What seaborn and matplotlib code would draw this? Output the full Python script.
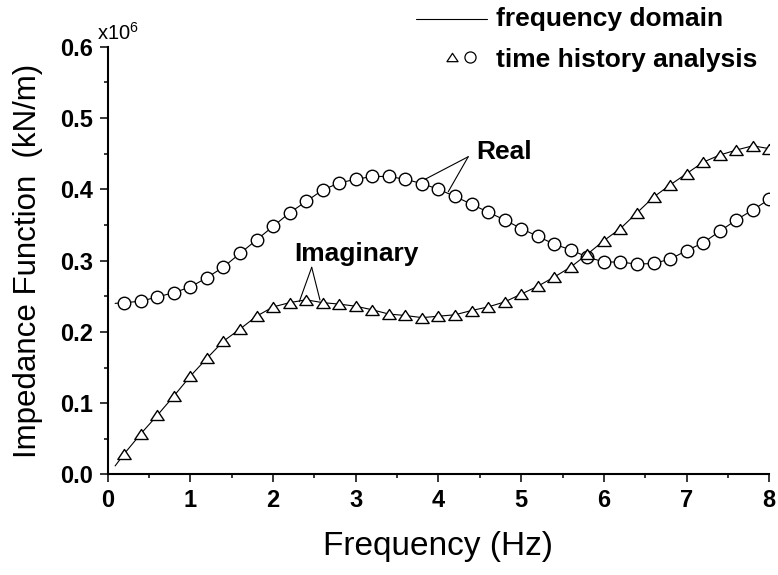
import numpy as np
import pandas as pd
import matplotlib
matplotlib.use("Agg")
import matplotlib.pyplot as plt
from matplotlib.path import Path
from matplotlib.lines import Line2D
import seaborn as sns

# Frequency points of the time-history analysis (Hz)
freq = [0.2, 0.4, 0.6, 0.8, 1.0, 1.2, 1.4, 1.6, 1.8, 2.0,
        2.2, 2.4, 2.6, 2.8, 3.0, 3.2, 3.4, 3.6, 3.8, 4.0,
        4.2, 4.4, 4.6, 4.8, 5.0, 5.2, 5.4, 5.6, 5.8, 6.0,
        6.2, 6.4, 6.6, 6.8, 7.0, 7.2, 7.4, 7.6, 7.8, 8.0]

# Real part of the impedance function (x10^6 kN/m)
real_part = [0.241, 0.243, 0.249, 0.255, 0.263, 0.276, 0.291, 0.310, 0.329, 0.348,
             0.367, 0.383, 0.399, 0.409, 0.414, 0.418, 0.418, 0.414, 0.408, 0.400,
             0.390, 0.379, 0.368, 0.357, 0.345, 0.334, 0.323, 0.315, 0.305, 0.298,
             0.298, 0.295, 0.296, 0.302, 0.314, 0.325, 0.341, 0.357, 0.371, 0.386]

# Imaginary part of the impedance function (x10^6 kN/m)
imag_part = [0.029, 0.057, 0.083, 0.110, 0.138, 0.163, 0.187, 0.204, 0.222, 0.235,
             0.241, 0.245, 0.241, 0.239, 0.236, 0.231, 0.225, 0.223, 0.220, 0.222,
             0.224, 0.230, 0.235, 0.242, 0.253, 0.264, 0.277, 0.291, 0.309, 0.328,
             0.345, 0.367, 0.389, 0.406, 0.422, 0.438, 0.448, 0.455, 0.461, 0.457]

# Frequency-domain solution: starts slightly below the first sample
fd_start_freq = [0.09]
fd_start_real = [0.240]
fd_start_imag = [0.012]

x_ticks = [0, 1, 2, 3, 4, 5, 6, 7, 8]
y_ticks = [0.0, 0.1, 0.2, 0.3, 0.4, 0.5, 0.6]
y_tick_labels = ["0.0", "0.1", "0.2", "0.3", "0.4", "0.5", "0.6"]

th = pd.DataFrame({"f": freq, "real": real_part, "imag": imag_part})
fd = pd.DataFrame({"f": fd_start_freq + freq,
                   "real": fd_start_real + real_part,
                   "imag": fd_start_imag + imag_part})

sns.set_theme(style="ticks", rc={
    "text.color": "black", "axes.labelcolor": "black",
    "axes.edgecolor": "black", "xtick.color": "black", "ytick.color": "black",
})
plt.rcParams["font.family"] = ["Liberation Sans", "DejaVu Sans"]
plt.rcParams["mathtext.fontset"] = "custom"
plt.rcParams["mathtext.rm"] = "Liberation Sans"
plt.rcParams["mathtext.default"] = "regular"

fig = plt.figure(figsize=(7.78, 5.75), dpi=100)
ax = fig.add_axes([0.1384, 0.1748, 0.8504, 0.7440])

# Flat open triangle (wider than tall)
tri = Path([(-1.0, -0.75), (1.0, -0.75), (0.0, 0.75), (-1.0, -0.75)],
           [Path.MOVETO, Path.LINETO, Path.LINETO, Path.CLOSEPOLY])

for col in ["real", "imag"]:
    sns.lineplot(data=fd, x="f", y=col, ax=ax, color="black", lw=0.8,
                 estimator=None, sort=False, zorder=2)

sns.scatterplot(data=th, x="f", y="real", ax=ax, marker="o", s=9.0 ** 2,
                facecolor="white", edgecolor="black", linewidth=1.0, zorder=3)
sns.scatterplot(data=th, x="f", y="imag", ax=ax, marker=tri, s=9.6 ** 2,
                facecolor="white", edgecolor="black", linewidth=1.0, zorder=3)

ax.set_xlim(0, 8)
ax.set_ylim(0, 0.6)
ax.set_xticks(x_ticks)
ax.set_xticklabels([str(t) for t in x_ticks])
ax.set_yticks(y_ticks)
ax.set_yticklabels(y_tick_labels)
ax.set_xticks(np.arange(0.5, 8, 1.0), minor=True)
ax.set_yticks(np.arange(0.05, 0.6, 0.1), minor=True)

sns.despine(ax=ax)
for s in ["left", "bottom"]:
    ax.spines[s].set_linewidth(1.5)
    ax.spines[s].set_color("black")
ax.tick_params(which="major", direction="out", length=5.5, width=1.1,
               labelsize=17, pad=5, color="black", labelcolor="black")
ax.tick_params(which="minor", direction="out", length=3, width=1.1, color="black")
for lab in ax.get_xticklabels() + ax.get_yticklabels():
    lab.set_fontweight("bold")

ax.set_xlabel("Frequency (Hz)", fontsize=24, color="black")
ax.set_ylabel("Impedance Function  (kN/m)", fontsize=22.5, color="black")
ax.xaxis.set_label_coords(0.5, -0.132)
ax.yaxis.set_label_coords(-0.0985, 0.5)

# Axis multiplier
ax.text(-0.13, 0.609, r"x10$^{6}$", fontsize=14.5, ha="left", va="baseline",
        color="black", clip_on=False)

# Curve labels with leader lines
ax.text(4.453, 0.442, "Real", fontsize=19, fontweight="bold",
        ha="left", va="baseline", color="black")
for tgt in [(3.837, 0.414), (4.118, 0.3966)]:
    ax.annotate("", xy=tgt, xytext=(4.36, 0.4457),
                arrowprops=dict(arrowstyle="-", lw=0.8, color="black",
                                shrinkA=0, shrinkB=0))

ax.text(2.253, 0.2994, "Imaginary", fontsize=19, fontweight="bold",
        ha="left", va="baseline", color="black")
for tgt in [(2.317, 0.2424), (2.567, 0.2447)]:
    ax.annotate("", xy=tgt, xytext=(2.467, 0.2906),
                arrowprops=dict(arrowstyle="-", lw=0.8, color="black",
                                shrinkA=0, shrinkB=0))

# Legend
fig.add_artist(Line2D([0.5347, 0.6256], [0.967, 0.967], color="black", lw=0.8,
                      transform=fig.transFigure))
fig.add_artist(Line2D([0.5806], [0.9003], marker=tri, markersize=8,
                      markerfacecolor="white", markeredgecolor="black",
                      markeredgewidth=0.9, linestyle="none",
                      transform=fig.transFigure))
fig.add_artist(Line2D([0.6041], [0.9003], marker="o", markersize=8,
                      markerfacecolor="white", markeredgecolor="black",
                      markeredgewidth=0.9, linestyle="none",
                      transform=fig.transFigure))
fig.text(0.6375, 0.9548, "frequency domain", fontsize=19, fontweight="bold",
         ha="left", va="baseline", color="black")
fig.text(0.6375, 0.884, "time history analysis", fontsize=19, fontweight="bold",
         ha="left", va="baseline", color="black")

fig.savefig("out.png", dpi=100)
